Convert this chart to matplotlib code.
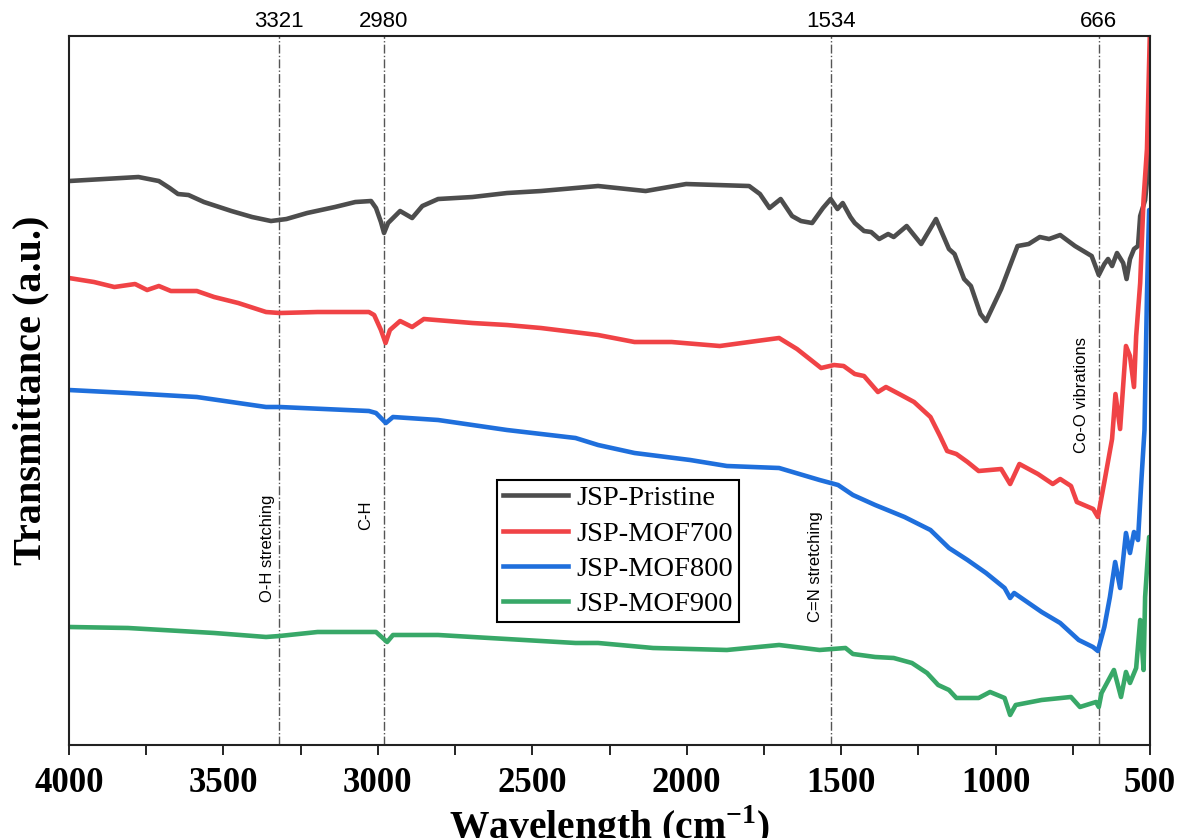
import matplotlib
matplotlib.use("Agg")
import matplotlib.pyplot as plt

# FTIR spectra, values (arbitrary transmittance units)
wn_pristine = [4000, 3775, 3709, 3674, 3647, 3613, 3563, 3474, 3407, 3346, 3296, 3229, 3139, 3073,
               3022, 3006, 2990, 2980, 2967, 2928, 2889, 2856, 2805, 2694, 2582, 2472, 2287, 2133,
               2002, 1798, 1763, 1732, 1696, 1659, 1630, 1594, 1559, 1534, 1512, 1495, 1470, 1456,
               1426, 1403, 1377, 1348, 1330, 1288, 1241, 1193, 1151, 1133, 1102, 1080, 1049, 1031,
               982, 929, 893, 857, 827, 791, 743, 689, 666, 648, 636, 623, 607, 587, 576, 565, 552,
               539, 532, 516, 505, 500]
t_pristine = [56.4, 56.8, 56.4, 55.7, 55.1, 55.0, 54.3, 53.4, 52.8, 52.4, 52.6, 53.2, 53.8, 54.3,
              54.4, 53.7, 52.3, 51.2, 52.2, 53.4, 52.7, 53.9, 54.6, 54.8, 55.2, 55.4, 55.9, 55.4,
              56.1, 55.9, 55.1, 53.7, 54.6, 52.9, 52.4, 52.2, 53.7, 54.6, 53.6, 54.2, 52.8, 52.2,
              51.4, 51.3, 50.6, 51.1, 50.8, 51.9, 50.1, 52.6, 49.6, 49.1, 46.6, 45.9, 43.1, 42.4,
              45.6, 49.9, 50.1, 50.8, 50.6, 51.0, 49.9, 48.9, 47.0, 48.1, 48.6, 47.9, 49.2, 48.2,
              46.6, 48.6, 49.6, 49.9, 52.9, 54.5, 58.0, 62.5]

wn_700 = [4000, 3919, 3853, 3786, 3747, 3709, 3670, 3586, 3530, 3452, 3362, 3318, 3195, 3029, 3012,
          2990, 2975, 2961, 2928, 2889, 2851, 2694, 2582, 2472, 2287, 2169, 2049, 1893, 1774, 1701,
          1643, 1565, 1523, 1492, 1456, 1426, 1381, 1355, 1306, 1264, 1211, 1180, 1157, 1127, 1091,
          1055, 982, 953, 923, 863, 815, 791, 756, 737, 684, 669, 648, 623, 612, 597, 578, 565, 552,
          545, 532, 521, 510, 500]
t_700 = [46.7, 46.3, 45.8, 46.1, 45.5, 45.9, 45.4, 45.4, 44.8, 44.2, 43.3, 43.2, 43.3, 43.3, 43.0,
         41.5, 40.2, 41.5, 42.4, 41.8, 42.6, 42.2, 42.0, 41.7, 41.0, 40.3, 40.3, 39.9, 40.4, 40.7,
         39.6, 37.7, 38.0, 37.9, 37.1, 36.9, 35.3, 35.8, 35.0, 34.3, 32.8, 30.9, 29.4, 29.1, 28.3,
         27.4, 27.6, 26.1, 28.1, 27.1, 26.1, 26.6, 25.9, 24.3, 23.6, 22.8, 26.3, 30.6, 35.1, 31.6,
         39.9, 38.9, 35.8, 40.9, 46.2, 54.6, 59.6, 72.0]

wn_800 = [4000, 3809, 3586, 3362, 3318, 3029, 3006, 2974, 2951, 2805, 2582, 2360, 2287, 2169, 1989,
          1870, 1701, 1570, 1510, 1462, 1390, 1295, 1211, 1151, 1091, 1031, 971, 953, 940, 851, 791,
          731, 685, 669, 648, 630, 613, 597, 578, 565, 552, 539, 528, 518, 510, 503, 500]
t_800 = [35.5, 35.2, 34.8, 33.8, 33.8, 33.4, 33.2, 32.2, 32.8, 32.5, 31.5, 30.7, 30.0, 29.2, 28.5,
         27.9, 27.7, 26.5, 26.0, 25.0, 24.0, 22.8, 21.5, 19.7, 18.5, 17.2, 15.7, 14.7, 15.2, 13.3,
         12.2, 10.5, 9.8, 9.4, 11.8, 14.8, 18.3, 15.7, 21.2, 19.2, 21.3, 20.5, 26.5, 31.5, 45.0,
         53.5, 53.5]

wn_900 = [4000, 3809, 3641, 3530, 3362, 3318, 3195, 3006, 2970, 2951, 2805, 2639, 2472, 2360, 2287,
          2109, 1870, 1701, 1570, 1486, 1462, 1390, 1330, 1271, 1222, 1186, 1151, 1127, 1055, 1018,
          971, 953, 935, 851, 756, 727, 675, 666, 657, 617, 594, 578, 565, 545, 532, 521, 516, 503,
          500]
t_900 = [11.8, 11.7, 11.4, 11.2, 10.8, 10.9, 11.3, 11.3, 10.3, 11.0, 11.0, 10.7, 10.4, 10.2, 10.2,
         9.7, 9.5, 10.0, 9.5, 9.7, 9.1, 8.8, 8.7, 8.2, 7.2, 6.0, 5.5, 4.7, 4.7, 5.3, 4.7, 3.0, 4.0,
         4.5, 4.8, 3.8, 4.3, 3.8, 5.2, 7.5, 4.8, 7.3, 6.2, 7.7, 12.5, 7.5, 14.8, 20.8, 20.8]

labels = ["JSP-Pristine", "JSP-MOF700", "JSP-MOF800", "JSP-MOF900"]
colors = ["#4d4d4d", "#f04346", "#1f6fdc", "#38a868"]

peaks = [3321, 2980, 1534, 666]
peak_notes = ["O-H stretching", "C-H", "C=N stretching", "Co-O vibrations"]
note_pos = [(3357, 19.7), (3039, 23.0), (1582, 17.8), (722, 35.0)]

plt.rcParams["mathtext.fontset"] = "custom"
plt.rcParams["mathtext.rm"] = "Liberation Serif:bold"
plt.rcParams["mathtext.bf"] = "Liberation Serif:bold"

fig = plt.figure(figsize=(11.81, 8.38), dpi=100)
ax = fig.add_axes([0.0584, 0.111, 0.9154, 0.846])

series = [(wn_pristine, t_pristine), (wn_700, t_700), (wn_800, t_800), (wn_900, t_900)]
for (wn, t), lab, c in zip(series, labels, colors):
    ax.plot(wn, t, color=c, lw=3.3, label=lab, solid_joinstyle="round")

for p in peaks:
    ax.axvline(p, color="#555555", ls="-.", lw=1.0, zorder=0)
    ax.text(p, 1.005, str(p), transform=ax.get_xaxis_transform(), ha="center", va="bottom",
            fontsize=16, family="Liberation Sans")

for note, (x, y) in zip(peak_notes, note_pos):
    ax.text(x, y, note, rotation=90, ha="center", va="center", fontsize=12,
            family="Liberation Sans")

ax.set_xlim(4000, 500)
ax.set_ylim(0, 70.9)
ax.set_xticks([4000, 3500, 3000, 2500, 2000, 1500, 1000, 500])
ax.set_xticks(range(3750, 500, -500), minor=True)
ax.set_yticks([])
ax.tick_params(axis="x", which="both", direction="out", length=7, width=1.2, pad=9)
for lbl in ax.get_xticklabels():
    lbl.set_fontfamily("Liberation Serif")
    lbl.set_fontweight("bold")
    lbl.set_fontsize(25)
for s in ax.spines.values():
    s.set_linewidth(1.5)
    s.set_color("#222222")

ax.set_xlabel("Wavelength (cm$^{-1}$)", fontsize=28.5, family="Liberation Serif",
              fontweight="bold", labelpad=2)
ax.set_ylabel("Transmittance (a.u.)", fontsize=29, family="Liberation Serif",
              fontweight="bold", labelpad=14)

leg = ax.legend(loc="upper left", bbox_to_anchor=(0.396, 0.374), frameon=True, fancybox=False,
                edgecolor="black", framealpha=1, prop={"family": "Liberation Serif", "size": 20.5},
                handlelength=2.3, handletextpad=0.3, labelspacing=0.32, borderpad=0.2,
                borderaxespad=0)
leg.get_frame().set_linewidth(1.5)

fig.savefig("out.png", dpi=100)
